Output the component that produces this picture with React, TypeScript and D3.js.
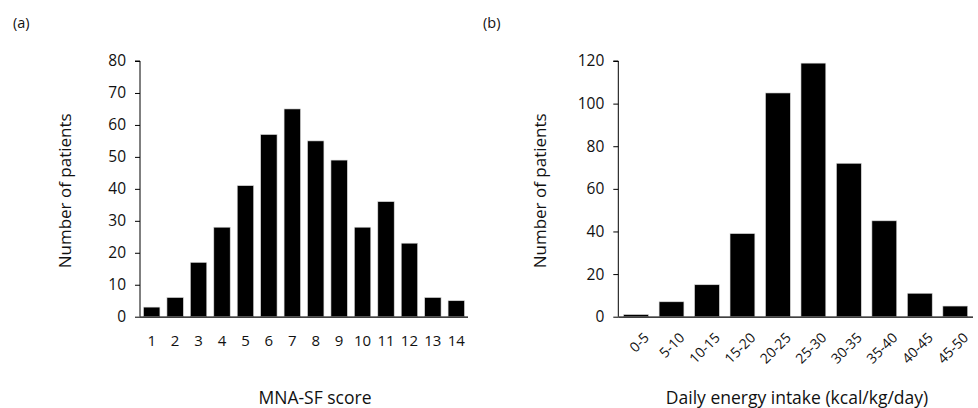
import React, { useEffect, useRef } from "react";
import * as d3 from "d3";

const scoreLabels = ["1", "2", "3", "4", "5", "6", "7", "8", "9", "10", "11", "12", "13", "14"];
const scoreCounts = [3, 6, 17, 28, 41, 57, 65, 55, 49, 28, 36, 23, 6, 5];
const scoreTicks = [0, 10, 20, 30, 40, 50, 60, 70, 80];

const intakeLabels = ["0-5", "5-10", "10-15", "15-20", "20-25", "25-30", "30-35", "35-40", "40-45", "45-50"];
const intakeCounts = [1, 7, 15, 39, 105, 119, 72, 45, 11, 5];
const intakeTicks = [0, 20, 40, 60, 80, 100, 120];

const FONT = "'Open Sans', 'Liberation Sans', sans-serif";
const TEXT = "#111";

type Panel = {
  tag: string;
  tagX: number;
  labels: string[];
  values: number[];
  ticks: number[];
  x0: number;
  x1: number;
  yLabelX: number;
  xTitle: string;
  xTitleX: number;
  rotate: boolean;
};

const App = () => {
  const ref = useRef<SVGSVGElement>(null);

  useEffect(() => {
    const svg = d3.select(ref.current);
    svg.selectAll("*").remove();

    const top = 61;
    const bottom = 316.7;

    const panels: Panel[] = [
      {
        tag: "(a)", tagX: 13, labels: scoreLabels, values: scoreCounts, ticks: scoreTicks,
        x0: 140, x1: 468, yLabelX: 65, xTitle: "MNA-SF score", xTitleX: 315, rotate: false,
      },
      {
        tag: "(b)", tagX: 483, labels: intakeLabels, values: intakeCounts, ticks: intakeTicks,
        x0: 618.3, x1: 973, yLabelX: 540, xTitle: "Daily energy intake (kcal/kg/day)", xTitleX: 797, rotate: true,
      },
    ];

    panels.forEach(p => {
      const g = svg.append("g");

      g.append("text")
        .attr("x", p.tagX)
        .attr("y", 28)
        .attr("font-size", 14.5)
        .attr("font-family", FONT)
        .attr("fill", TEXT)
        .text(p.tag);

      const x = d3.scaleBand().domain(p.labels).range([p.x0, p.x1]).paddingInner(0.3).paddingOuter(0.15);
      const y = d3.scaleLinear().domain([0, d3.max(p.ticks) as number]).range([bottom, top]);

      g.selectAll("rect.bar")
        .data(p.values)
        .enter()
        .append("rect")
        .attr("class", "bar")
        .attr("x", (d, i) => x(p.labels[i]) as number)
        .attr("y", d => y(d))
        .attr("width", x.bandwidth())
        .attr("height", d => bottom - y(d))
        .attr("fill", "#000")
        .attr("stroke", "#d9d9d9")
        .attr("stroke-width", 0.6);

      // y axis
      const yAxis = d3.axisLeft(y).tickValues(p.ticks).tickSize(5).tickPadding(9);
      const ya = g.append("g").attr("transform", `translate(${p.x0},0)`).call(yAxis);
      ya.attr("font-size", null).attr("font-family", null);
      ya.select(".domain").attr("stroke", "#000").attr("d", `M-5,${top}H0V${bottom}`);
      ya.selectAll("line").attr("stroke", "#000");
      ya.selectAll("text")
        .style("font-size", "15.5px")
        .style("font-family", FONT)
        .attr("fill", TEXT);

      // x baseline
      g.append("line")
        .attr("x1", p.x0)
        .attr("x2", p.x1)
        .attr("y1", bottom + 0.5)
        .attr("y2", bottom + 0.5)
        .attr("stroke", "#000")
        .attr("stroke-width", 1.2);

      // category labels
      const lab = g.selectAll("text.cat")
        .data(p.labels)
        .enter()
        .append("text")
        .attr("class", "cat")
        .style("font-size", p.rotate ? "14px" : "15px")
        .style("font-family", FONT)
        .attr("fill", TEXT)
        .text(d => d);
      if (p.rotate) {
        lab.attr("text-anchor", "end")
          .attr("transform", d => `translate(${(x(d) as number) + x.bandwidth() / 2 + 14},${bottom + 22}) rotate(-45)`);
      } else {
        lab.attr("text-anchor", "middle")
          .attr("x", d => (x(d) as number) + x.bandwidth() / 2)
          .attr("y", bottom + 29);
      }

      // axis titles
      g.append("text")
        .attr("transform", `translate(${p.yLabelX},${(top + bottom) / 2 + 2}) rotate(-90)`)
        .attr("text-anchor", "middle")
        .attr("dy", "0.35em")
        .style("font-size", "17px")
        .style("font-family", FONT)
        .attr("fill", TEXT)
        .text("Number of patients");

      g.append("text")
        .attr("x", p.xTitleX)
        .attr("y", 404)
        .attr("text-anchor", "middle")
        .style("font-size", "17.5px")
        .style("font-family", FONT)
        .attr("fill", TEXT)
        .text(p.xTitle);
    });
  }, []);

  return (
    <svg
      ref={ref}
      width={978}
      height={408}
      style={{ position: "absolute", left: 0, top: 0, background: "#fff" }}
    />
  );
};

export default App;
